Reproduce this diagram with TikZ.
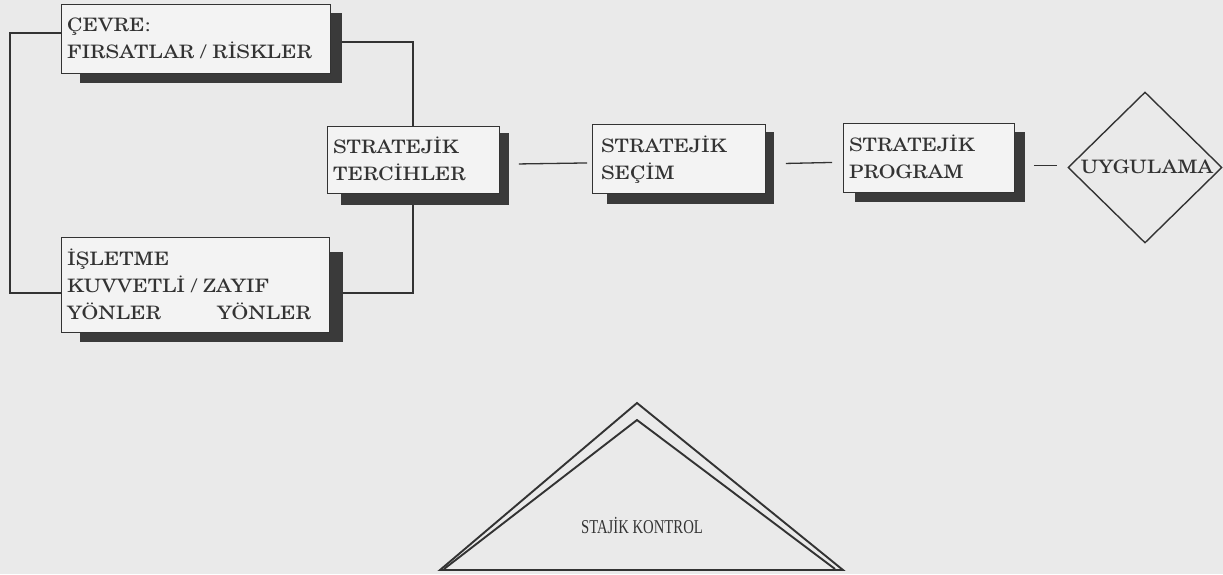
\documentclass[tikz,border=0pt]{standalone}
\usepackage{fontspec}
\usepackage{graphicx}
\usetikzlibrary{calc,shapes.geometric}
\newfontfamily\ctlfont{Liberation Serif}
\newfontfamily\boxfont{texgyreschola-regular.otf}
\definecolor{paper}{HTML}{EAEAEA}
\definecolor{boxfill}{HTML}{F3F3F3}
\definecolor{ink}{HTML}{333333}
\definecolor{shade}{HTML}{3A3A3A}
\pgfdeclarelayer{bg}
\pgfdeclarelayer{shadowlayer}
\pgfsetlayers{bg,shadowlayer,main}
\newcommand{\bxtext}[1]{\scalebox{1.16}[1]{\boxfont\fontsize{18.5}{27}\selectfont\begin{tabular}[t]{@{}l@{}}#1\end{tabular}}}
\newcommand{\bxline}[1]{\scalebox{1.16}[1]{\boxfont\fontsize{18.5}{27}\selectfont #1}}
\tikzset{
  frameline/.style={draw=ink, line width=1.1pt},
  stratbox/.style={draw=ink, line width=0.9pt, fill=boxfill, rectangle, inner sep=0pt, anchor=north west},
  shadowbar/.style={fill=shade, draw=none},
  boxtext/.style={inner sep=0pt, anchor=base west, text=ink},
  conn/.style={draw=ink, line width=1.3pt},
  triline/.style={draw=ink, line width=1.9pt, line join=miter},
  diamondbox/.style={diamond, draw=ink, line width=1.4pt, inner sep=0pt, minimum width=154pt, minimum height=151pt},
}
\begin{document}
\begin{tikzpicture}[x=1pt,y=-1pt]
\useasboundingbox (0,0) rectangle (1223,574);
\begin{pgfonlayer}{bg}
  \fill[paper] (0,0) rectangle (1223,574);
  % big frame around the left group
  \draw[frameline] (341,42) -- (413,42) -- (413,293) -- (10,293) -- (10,33) -- (61,33);
\end{pgfonlayer}

% boxes
\node[stratbox, minimum width=269pt, minimum height=69pt] (cevre) at (61,4) {};
\node[stratbox, minimum width=268pt, minimum height=95pt] (isletme) at (61,237) {};
\node[stratbox, minimum width=172pt, minimum height=67pt] (terc) at (327,126) {};
\node[stratbox, minimum width=173pt, minimum height=69pt] (sec) at (592,124) {};
\node[stratbox, minimum width=171pt, minimum height=69pt] (prog) at (843,123) {};
\node[diamondbox] (uyg) at (1145,167.5) {};

% shadows
\begin{pgfonlayer}{shadowlayer}
  \fill[shadowbar] ($(cevre.north west)+(19,9)$) rectangle ($(cevre.south east)+(11,9)$);
  \fill[shadowbar] ($(isletme.north west)+(19,15)$) rectangle ($(isletme.south east)+(13,9)$);
  \fill[shadowbar] ($(terc.north west)+(14,7)$) rectangle ($(terc.south east)+(9,11)$);
  \fill[shadowbar] ($(sec.north west)+(15,8)$) rectangle ($(sec.south east)+(8,10)$);
  \fill[shadowbar] ($(prog.north west)+(12,9)$) rectangle ($(prog.south east)+(10,9)$);
\end{pgfonlayer}

% texts
\node[boxtext] (cevreT) at ($(cevre.north west)+(6,27)$) {\bxtext{ÇEVRE:\\FIRSATLAR / RİSKLER}};
\node[boxtext] (isletmeT) at ($(isletme.north west)+(6,28)$) {\bxtext{İŞLETME\\KUVVETLİ / ZAYIF\\\makebox[129.3pt][l]{YÖNLER}YÖNLER}};
\node[boxtext] (tercT) at ($(terc.north west)+(6,27)$) {\bxtext{STRATEJİK\\TERCİHLER}};
\node[boxtext] (secT) at ($(sec.north west)+(9,28)$) {\bxtext{STRATEJİK\\SEÇİM}};
\node[boxtext] (progT) at ($(prog.north west)+(6,28)$) {\bxtext{STRATEJİK\\PROGRAM}};
\node[boxtext, anchor=base] (uygT) at ($(uyg.center)+(2,5.5)$) {\bxline{UYGULAMA}};

% connectors
\draw[conn] ([xshift=19pt,yshift=-4pt]terc.east) -- ([xshift=-5pt,yshift=-4pt]sec.west);
\draw[conn] ([xshift=20pt,yshift=-4.5pt]sec.east) -- ([xshift=-11pt,yshift=-4.5pt]prog.west);
\draw[conn] ($(prog.east |- uyg.west)+(19,-2)$) -- ($(uyg.west)+(-10,-2)$);

% control triangle
\draw[triline] (440,570) -- (637,403) -- (843,570) -- cycle;
\draw[triline] (444,569) -- (637,420) -- (835,569);
\node[boxtext, anchor=base] (ctl) at (642,533) {\scalebox{0.75}[1]{\ctlfont\fontsize{19.6}{24}\selectfont STAJİK KONTROL}};
\end{tikzpicture}
\end{document}
